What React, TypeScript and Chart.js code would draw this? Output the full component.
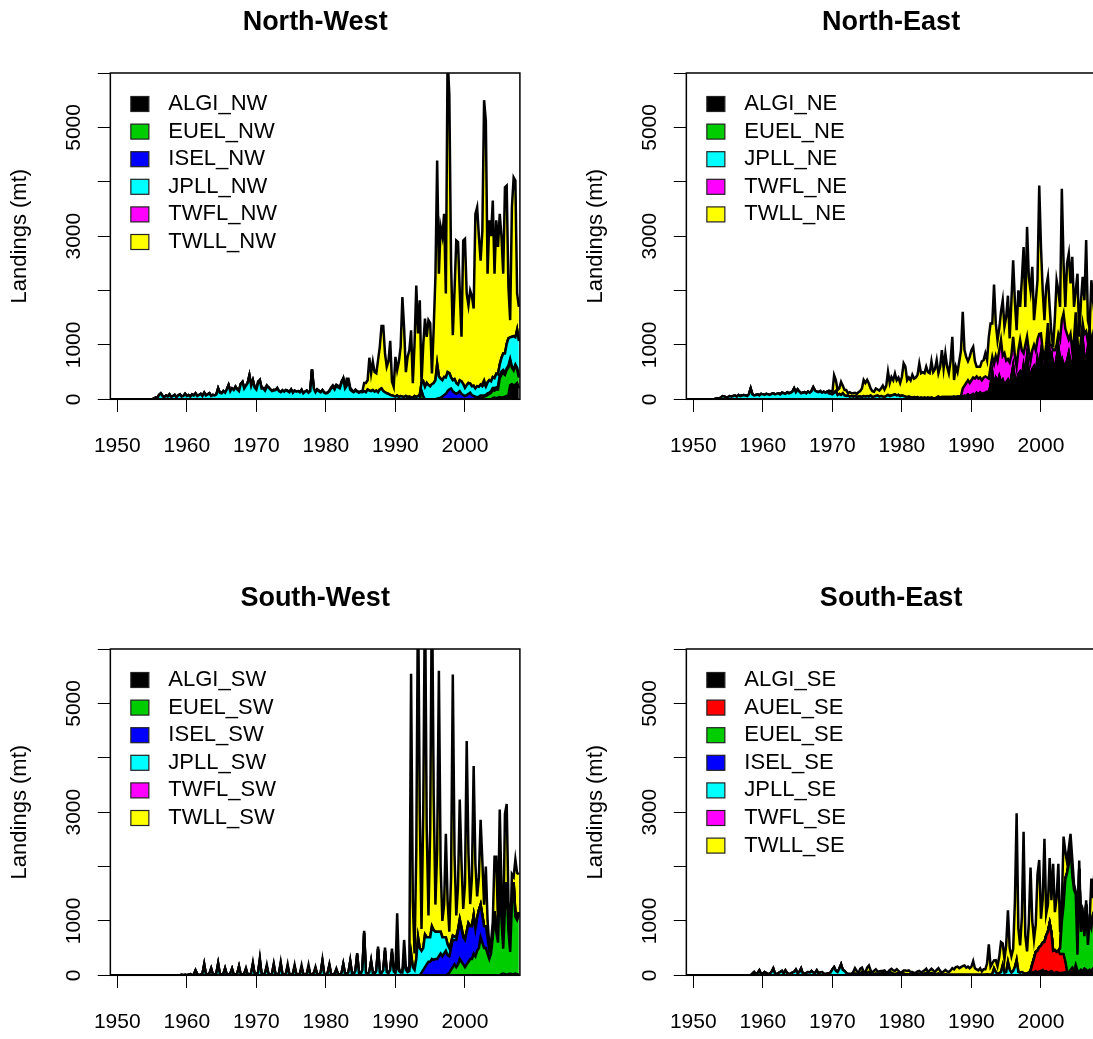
import React, { useEffect, useRef } from "react";
import { Chart, registerables } from "chart.js";

Chart.register(...registerables);

// ---------- axes ----------
const X0 = 1949; // first quarter of the grid
const NQ = 236; // quarters 1949.00 .. 2007.75
const X_MIN = 1949;
const X_MAX = 2007.9;
const Y_MAX = 6000;
const X_TICKS = [1950, 1960, 1970, 1980, 1990, 2000];
const Y_TICKS = [0, 1000, 2000, 3000, 4000, 5000, 6000];
const Y_LABELS = [0, 1000, 3000, 5000];
const Y_TITLE = "Landings (mt)";

const COLORS: Record<string, string> = {
  ALGI: "#000000",
  AUEL: "#FF0000",
  EUEL: "#00CD00",
  ISEL: "#0000FF",
  JPLL: "#00FFFF",
  TWFL: "#FF00FF",
  TWLL: "#FFFF00",
};

// ---------- North-West (quarterly values, from start year) ----------
const ALGI_NW_START = 2004;
const ALGI_NW = [20, 30, 20, 30, 40, 30, 40, 50, 60, 80, 260, 280, 250, 270, 300, 200];
const EUEL_NW_START = 1993.5;
const EUEL_NW = [
  0, 150,
  50, 0, 0, 0,
  0, 0, 0, 0, 0, 0, 0, 0, 0, 0, 0, 0, 0, 0, 0, 0,
  0, 0, 0, 0, 0, 0, 0, 0, 0, 0, 0, 0,
  20, 30, 40, 50,
  60, 80, 100, 120,
  150, 130, 160, 150,
  350, 420, 450, 400,
  480, 500, 450, 300,
  280, 350, 250, 200,
];
const ISEL_NW_START = 1996;
const ISEL_NW = [
  10, 20, 30, 50, 80, 100, 150, 180, 200, 150, 120, 100, 120, 150, 100, 80,
  60, 80, 100, 120, 80, 60, 50, 40, 30, 40, 30, 20, 20, 30, 20, 30,
  40, 50, 40, 60, 50, 60, 50, 40, 30, 40, 30, 20, 30, 20, 30, 20,
];
const JPLL_NW_START = 1955;
const JPLL_NW = [
  0, 10, 30, 20, 80, 110, 60, 40, 70, 50, 90, 40, 60, 80, 40, 70,
  90, 50, 60, 100, 60, 80, 50, 90, 70, 110, 60, 80, 100, 60, 120, 70,
  90, 110, 60, 80, 70, 90, 200, 120, 110, 150, 120, 180, 260, 150, 200, 170,
  230, 180, 150, 280, 320, 200, 250, 300, 440, 250, 350, 220, 180, 300, 350, 200,
  200, 160, 230, 220, 180, 150, 160, 170, 200, 150, 130, 160, 140, 170, 150, 130,
  180, 120, 160, 140, 150, 130, 170, 110, 140, 160, 120, 150, 550, 200, 130, 180,
  150, 130, 170, 120, 110, 120, 150, 200, 230, 180, 250, 220, 200, 300, 380, 200,
  250, 320, 180, 150, 130, 160, 140, 120, 140, 130, 150, 130, 180, 160, 150, 170,
  140, 160, 130, 180, 200, 150, 130, 110, 100, 80, 70, 60, 50, 70, 40, 60,
  50, 40, 60, 40, 50, 40, 30, 60, 40, 60, 80, 150, 280, 230, 300, 260,
  240, 280, 300, 350, 640, 400, 350, 300, 330, 300, 350, 300, 200, 200, 250, 200,
  150, 200, 230, 200, 150, 180, 200, 170, 160, 190, 150, 200, 180, 200, 170, 220,
  150, 200, 230, 180, 200, 180, 250, 220, 200, 250, 300, 350, 450, 500, 400, 550,
  600, 500, 700, 650,
];
const TWFL_NW_START = 2002.5;
const TWFL_NW = [40, 60, 20];
const TWLL_NW_START = 1970;
const TWLL_NW = [
  0, 30, 0, 20, 10, 40, 30, 0, 0, 10, 20, 0, 10, 0, 0, 10,
  0, 0, 10, 0, 0, 10, 0, 0, 0, 0, 10, 0, 0, 0, 0, 10,
  0, 0, 0, 0, 10, 0, 0, 0, 0, 0, 10, 20, 30, 40, 20, 30,
  20, 30, 0, 20, 130, 60, 30, 20, 10, 20, 10, 20,
  0, 20, 150, 170, 170, 604, 327, 520, 360, 317, 590, 785, 1150, 1200, 715, 490,
  600, 995, 255, 170, 730, 470, 660, 905, 1830, 1260, 440, 740, 850, 1230, 265, 965,
  2050, 1150, 1740, 0, 670, 1255, 850, 1195, 1160, 195, 1000, 1900, 3740, 1890, 2790, 2650,
  3000, 1545, 5800, 5120, 2100, 830, 1630, 2620, 2620, 1650, 820, 2640, 2740, 1685, 1430, 1710,
  1660, 1420, 3210, 3290, 2770, 2280, 2820, 5150, 4870, 2000, 2940, 2670, 3245, 1920, 2820, 2340,
  2770, 2240, 1470, 3060, 2910, 945, 315, 2380, 2920, 2880, 665, 630,
];

// ---------- North-East ----------
const ALGI_NE_START = 1985;
const ALGI_NE = [
  10, 20, 10, 20, 20, 30, 20, 30, 30, 20, 40, 30, 40, 30, 50, 40,
  60, 50, 80, 60, 70, 90, 60, 110, 80, 120, 90, 100, 110, 130, 100, 250,
  480, 250, 380, 300, 415, 300, 350, 250, 300, 350, 250, 400, 600, 350, 300, 450,
  500, 400, 600, 450, 780, 500, 400, 550, 600, 450, 720, 600, 845, 600, 400, 700,
  1210, 800, 845, 600, 600, 750, 965, 700, 750, 600, 650, 700, 845, 650, 600, 900,
  1395, 800, 600, 900, 1090, 700, 600, 900, 1270, 800, 1000, 900,
];
const EUEL_NE_START = 2006.25;
const EUEL_NE = [50, 150, 50];
const JPLL_NE_START = 1953;
const JPLL_NE = [
  0, 10, 20, 10, 40, 60, 50, 30, 40, 60, 50, 60, 70, 50, 80, 60,
  70, 80, 70, 60, 90, 200, 90, 70, 80, 90, 70, 100, 90, 80, 100, 90,
  80, 100, 110, 90, 100, 110, 90, 120, 110, 100, 130, 110, 120, 140, 200, 130,
  180, 140, 110, 120, 130, 110, 140, 120, 150, 220, 160, 140, 130, 150, 120, 140,
  120, 140, 110, 100, 90, 120, 150, 80, 100, 80, 110, 70, 60, 70, 50, 60,
  50, 60, 40, 50, 50, 40, 60, 50, 60, 50, 70, 40, 50, 60, 70, 50,
  60, 50, 40, 60, 80, 60, 70, 80, 90, 70, 80, 60, 70, 60, 50, 40,
  50, 40, 30, 40, 30, 40, 20, 30, 20, 30, 20, 30, 20, 30, 20, 20,
  20, 30, 10, 20, 20, 10, 20, 10, 10, 20, 10, 10, 10, 20, 10, 10,
  10, 10, 10, 10, 10, 10, 10, 10, 10, 10, 10, 10, 10, 10, 10, 10,
  10, 10, 10, 10, 10, 10, 10, 10, 10, 10, 10, 10, 10, 10, 10, 10,
  10, 10, 40, 20, 10, 10, 10, 10, 10, 10, 40, 20, 10, 0,
];
const TWFL_NE_START = 1988.75;
const TWFL_NE = [
  150,
  180, 240, 260, 230, 270, 300, 310, 300, 290, 270, 250, 290, 300, 260, 270, 340,
  290, 390, 410, 390, 475, 780, 440, 590, 400, 380, 420, 400, 540, 440, 290, 440,
  580, 490, 205, 530, 360, 390, 290, 340, 390, 440, 340, 580, 355, 300, 320, 300,
  190, 200, 155, 300, 300, 250, 235, 400, 705, 980, 650, 500, 255, 550, 300, 200,
  205, 300, 100, 200, 305, 450, 500, 100, 30, 200, 200, 200,
];
const TWLL_NE_START = 1969.5;
const TWLL_NE = [
  50, 50,
  30, 325, 205, 90, 100, 240, 140, 100, 110, 40, 80, 50, 60, 60, 60, 80,
  100, 160, 295, 250, 295, 240, 130, 110, 90, 140, 110, 110, 140, 200, 140, 190,
  425, 240, 340, 270, 385, 280, 320, 240, 345, 600, 550, 310, 350, 310, 420, 340,
  370, 410, 640, 450, 480, 450, 580, 470, 460, 670, 480, 530, 690, 430, 580, 865,
  530, 805, 560, 440, 660, 1110, 305, 560, 450, 650, 845, 1410, 655, 480, 350, 480,
  555, 565, 320, 180, 220, 200, 350, 320, 425, 320, 770, 795, 615, 1460, 600, 390,
  400, 520, 1020, 485, 800, 1165, 440, 1000, 1405, 1000, 670, 1105, 610, 1300, 1955, 700,
  2020, 1350, 1300, 1535, 455, 900, 1090, 2730, 1590, 1100, 735, 1065, 850, 700, 210, 65,
  600, 1190, 800, 600, 2415, 920, 400, 1300, 1580, 930, 1720, 600, 400, 1210, 450, 700,
  855, 620, 1680, 400, 0, 1190, 600, 400,
];

// ---------- South-West ----------
const ALGI_SW_START = 2005;
const ALGI_SW = [0, 20, 30, 20, 10, 20, 30, 20, 20, 30, 20, 10];
const EUEL_SW_START = 1997.5;
const EUEL_SW = [
  20, 50,
  100, 150, 200, 150, 200, 300, 250, 200, 150, 200, 250, 300, 300, 400, 350, 450,
  500, 700, 600, 500, 500, 400, 300, 400, 700, 1080, 800, 600, 1750, 1000, 460, 1200,
  1650, 800, 400, 1300, 1650, 1050, 1000, 1100,
];
const ISEL_SW_START = 1993.75;
const ISEL_SW = [
  50,
  100, 150, 200, 250, 250, 300, 280, 300, 300, 350, 400, 350, 400, 450, 350, 300,
  400, 500, 450, 500, 600, 700, 600, 500, 500, 600, 700, 600, 600, 700, 500, 600,
  700, 600, 500, 400, 400, 300, 150, 100, 80, 100, 80, 60, 60, 80, 60, 50,
  50, 60, 50, 40, 40, 50, 60, 50,
];
const JPLL_SW_START = 1959;
const JPLL_SW = [
  0, 10, 0, 10, 0, 10, 20, 0, 10, 90, 20, 0, 10, 30, 200, 10,
  20, 30, 125, 10, 10, 40, 215, 20, 10, 20, 125, 10, 10, 30, 120, 10,
  10, 30, 160, 10, 10, 30, 110, 10, 10, 40, 200, 20, 10, 50, 280, 20,
  10, 40, 150, 20, 10, 30, 190, 20, 10, 40, 210, 20, 10, 30, 160, 20,
  10, 30, 150, 20, 10, 30, 130, 20, 10, 30, 140, 20, 10, 40, 120, 20,
  10, 50, 250, 20, 10, 40, 180, 20, 10, 30, 100, 20, 10, 40, 200, 30,
  20, 60, 250, 30, 20, 80, 380, 40, 20, 100, 780, 50, 30, 60, 250, 40,
  30, 80, 480, 50, 40, 90, 450, 60, 40, 100, 420, 70, 40, 250, 80, 50,
  50, 300, 100, 60, 80, 400, 150, 100, 300, 700, 500, 400, 400, 600, 500, 450,
  450, 600, 550, 500, 500, 450, 400, 350, 300, 250, 200, 150, 100, 80, 60, 50,
  40, 30, 30, 20, 20, 10, 10, 10,
];
const TWFL_SW_START = 2000;
const TWFL_SW: number[] = [];
const TWLL_SW_START = 1968;
const TWLL_SW = [
  0, 0, 20, 0, 0, 0, 30, 0, 0, 10, 30, 0, 0, 0, 40, 0,
  0, 0, 20, 0, 0, 0, 30, 0, 0, 0, 40, 0, 0, 0, 40, 0,
  0, 0, 50, 0, 0, 0, 50, 0, 0, 0, 30, 0, 0, 0, 30, 0,
  0, 0, 20, 0, 0, 0, 20, 0, 0, 0, 10, 0, 0, 0, 20, 0,
  0, 0, 30, 0, 0, 0, 40, 0, 0, 0, 20, 0, 0, 0, 50, 0,
  0, 0, 60, 0, 0, 0, 70, 0,
  0, 890, 50, 0, 0, 350, 50, 20, 100, 5145, 1200, 300, 2000, 6500, 2500, 400,
  2500, 6500, 2000, 400, 2000, 6500, 2500, 500, 1500, 4800, 1200, 300, 600, 1900, 800, 300,
  1200, 4800, 1500, 400, 800, 2200, 1200, 500, 1000, 3500, 1300, 400, 900, 2750, 1200, 400,
  600, 1560, 1000, 400, 1100, 300, 100, 100, 200, 1000, 1300, 300, 1240, 500, 200, 1700,
  1440, 500, 100, 500, 100, 1000, 800, 700,
];

// ---------- South-East ----------
const ALGI_SE_START = 1998;
const ALGI_SE = [
  20, 40, 30, 50, 60, 80, 50, 70, 80, 100, 60, 80, 50, 60, 80, 50,
  40, 60, 50, 40, 50, 40, 60, 50, 40, 50, 60, 80, 100, 80, 60, 100,
  80, 120, 100, 60, 100, 80, 120, 100,
];
const AUEL_SE_START = 1998.5;
const AUEL_SE = [
  50, 150,
  250, 350, 400, 450, 460, 500, 550, 650, 750, 895, 700, 400, 420, 370, 400, 350,
  340, 350, 200, 30, 0, 50, 80, 0, 90,
];
const EUEL_SE_START = 2002.75;
const EUEL_SE = [
  100,
  600, 900, 1500, 1800, 2000, 2300, 1700, 1500, 1300, 300, 1900, 700,
  1000, 600, 1200, 500, 900, 800, 1000, 1100,
];
const ISEL_SE_START = 2003;
const ISEL_SE = [30, 60, 20];
const JPLL_SE_START = 1958.5;
const JPLL_SE = [
  30, 60,
  20, 40, 90, 20, 30, 60, 40, 20, 30, 60, 125, 30, 20, 40, 60, 80,
  30, 90, 40, 20, 30, 50, 60, 105, 40, 60, 125, 30, 30, 40, 60, 50,
  80, 50, 40, 90, 30, 50, 60, 30, 20, 30, 40, 50, 110, 150, 80, 60,
  120, 200, 100, 80, 40, 20, 10, 20, 20, 30, 20, 10, 20, 60, 30, 20,
  40, 60, 30, 20, 20, 30, 20, 30, 30, 40, 30, 20, 30, 60, 40, 30,
  20, 30, 40, 20, 20, 30, 20, 20, 20, 10, 20, 10, 20, 30, 20, 10,
  20, 30, 40, 20, 30, 40, 30, 20, 20, 30, 20, 10, 10, 20, 10, 10,
  10, 10, 10, 10, 10, 10, 10, 10, 10, 10, 10, 10, 10, 10, 10, 10,
  10, 10, 10, 10, 10, 20, 10, 10, 20, 125, 60, 20, 40, 60, 185, 50,
  60, 245, 100, 50, 80, 150, 280, 60, 50, 60, 40, 30,
  20, 10,
];
const TWFL_SE_START = 2000;
const TWFL_SE: number[] = [];
const TWLL_SE_START = 1972;
const TWLL_SE = [
  0, 10, 20, 10, 40, 100, 60, 30, 100, 80, 40, 30, 100, 120, 60, 30,
  60, 80, 50, 40, 50, 40, 60, 30, 30, 40, 80, 60, 60, 80, 40, 30,
  40, 60, 70, 60, 70, 50, 40, 30, 30, 40, 60, 40, 50, 60, 80, 40,
  60, 80, 60, 40, 80, 100, 60, 40, 60, 80, 60, 50, 80, 120, 100, 140,
  150, 120, 140, 160, 170, 130, 150, 120, 150, 250, 120, 100, 80, 120, 60, 100,
  100, 200, 560, 150, 200, 150, 220, 150, 300, 550, 400, 250, 500, 950, 400, 300,
  400, 1200, 2700, 800, 500, 1000, 2600, 700, 400, 900, 1900, 800, 350, 500, 1400, 1600,
  500, 800, 1900, 400, 500, 1200, 600, 1600, 700, 1000, 1600, 300, 300, 1200, 500, 200,
  300, 200, 300, 100, 50, 100, 150, 100, 50, 100, 80, 50, 30, 900, 300, 900,
];

// ---------- panel definitions ----------
type SeriesDef = { label: string; key: string; start: number; values: number[] };
type PanelDef = { title: string; left: number; top: number; series: SeriesDef[] };

const PANELS: PanelDef[] = [
  {
    title: "North-West", left: 0, top: 0,
    series: [
      { label: "ALGI_NW", key: "ALGI", start: ALGI_NW_START, values: ALGI_NW },
      { label: "EUEL_NW", key: "EUEL", start: EUEL_NW_START, values: EUEL_NW },
      { label: "ISEL_NW", key: "ISEL", start: ISEL_NW_START, values: ISEL_NW },
      { label: "JPLL_NW", key: "JPLL", start: JPLL_NW_START, values: JPLL_NW },
      { label: "TWFL_NW", key: "TWFL", start: TWFL_NW_START, values: TWFL_NW },
      { label: "TWLL_NW", key: "TWLL", start: TWLL_NW_START, values: TWLL_NW },
    ],
  },
  {
    title: "North-East", left: 576, top: 0,
    series: [
      { label: "ALGI_NE", key: "ALGI", start: ALGI_NE_START, values: ALGI_NE },
      { label: "EUEL_NE", key: "EUEL", start: EUEL_NE_START, values: EUEL_NE },
      { label: "JPLL_NE", key: "JPLL", start: JPLL_NE_START, values: JPLL_NE },
      { label: "TWFL_NE", key: "TWFL", start: TWFL_NE_START, values: TWFL_NE },
      { label: "TWLL_NE", key: "TWLL", start: TWLL_NE_START, values: TWLL_NE },
    ],
  },
  {
    title: "South-West", left: 0, top: 576,
    series: [
      { label: "ALGI_SW", key: "ALGI", start: ALGI_SW_START, values: ALGI_SW },
      { label: "EUEL_SW", key: "EUEL", start: EUEL_SW_START, values: EUEL_SW },
      { label: "ISEL_SW", key: "ISEL", start: ISEL_SW_START, values: ISEL_SW },
      { label: "JPLL_SW", key: "JPLL", start: JPLL_SW_START, values: JPLL_SW },
      { label: "TWFL_SW", key: "TWFL", start: TWFL_SW_START, values: TWFL_SW },
      { label: "TWLL_SW", key: "TWLL", start: TWLL_SW_START, values: TWLL_SW },
    ],
  },
  {
    title: "South-East", left: 576, top: 576,
    series: [
      { label: "ALGI_SE", key: "ALGI", start: ALGI_SE_START, values: ALGI_SE },
      { label: "AUEL_SE", key: "AUEL", start: AUEL_SE_START, values: AUEL_SE },
      { label: "EUEL_SE", key: "EUEL", start: EUEL_SE_START, values: EUEL_SE },
      { label: "ISEL_SE", key: "ISEL", start: ISEL_SE_START, values: ISEL_SE },
      { label: "JPLL_SE", key: "JPLL", start: JPLL_SE_START, values: JPLL_SE },
      { label: "TWFL_SE", key: "TWFL", start: TWFL_SE_START, values: TWFL_SE },
      { label: "TWLL_SE", key: "TWLL", start: TWLL_SE_START, values: TWLL_SE },
    ],
  },
];

const FONT = "'Liberation Sans', Arial, Helvetica, sans-serif";
const SIZE = 576;
const AREA_LEFT = 110.35;
const AREA_RIGHT = 519.9;
const AREA_TOP = 73;
const AREA_BOTTOM = 399.3;

function fullSeries(start: number, values: number[]) {
  const out: { x: number; y: number }[] = [];
  const off = Math.round((start - X0) * 4);
  for (let i = 0; i < NQ; i++) {
    const k = i - off;
    const v = k >= 0 && k < values.length ? values[k] : 0;
    out.push({ x: X0 + i / 4, y: v });
  }
  return out;
}

function Panel({ panel }: { panel: PanelDef }) {
  const ref = useRef<HTMLCanvasElement | null>(null);

  useEffect(() => {
    if (!ref.current) return;
    const decor = {
      id: "decor",
      afterDraw(chart: any) {
        const { ctx, chartArea: a, scales } = chart;
        ctx.save();
        ctx.strokeStyle = "#000";
        ctx.lineWidth = 1.5;
        ctx.strokeRect(a.left, a.top, a.right - a.left, a.bottom - a.top);
        ctx.fillStyle = "#000";
        ctx.font = `bold 27px ${FONT}`;
        ctx.textAlign = "center";
        ctx.textBaseline = "middle";
        ctx.fillText(panel.title, (a.left + a.right) / 2, 23);
        ctx.font = `21px ${FONT}`;
        for (const v of Y_LABELS) {
          const y = scales.y.getPixelForValue(v);
          ctx.save();
          ctx.translate(74, y);
          ctx.rotate(-Math.PI / 2);
          ctx.fillText(String(v), 0, 0);
          ctx.restore();
        }
        ctx.font = `22px ${FONT}`;
        ctx.save();
        ctx.translate(20, (a.top + a.bottom) / 2);
        ctx.rotate(-Math.PI / 2);
        ctx.fillText(Y_TITLE, 0, 0);
        ctx.restore();
        ctx.textAlign = "left";
        chart.data.datasets.forEach((ds: any, i: number) => {
          const cy = a.top + 31 + i * 27.6;
          ctx.fillStyle = ds.backgroundColor;
          ctx.fillRect(a.left + 20.5, cy - 7.5, 18, 15);
          ctx.lineWidth = 1.2;
          ctx.strokeStyle = "#222";
          ctx.strokeRect(a.left + 20.5, cy - 7.5, 18, 15);
          ctx.fillStyle = "#000";
          ctx.fillText(ds.label, a.left + 58, cy);
        });
        ctx.restore();
      },
    };

    const chart = new Chart(ref.current, {
      type: "line",
      data: {
        datasets: panel.series.map((s, i) => ({
          label: s.label,
          data: fullSeries(s.start, s.values),
          backgroundColor: COLORS[s.key],
          borderColor: "#000000",
          borderWidth: 2.5,
          fill: i === 0 ? "origin" : "-1",
          pointRadius: 0,
          tension: 0,
        })),
      },
      options: {
        responsive: false,
        animation: false,
        events: [],
        layout: { padding: { left: 0, right: SIZE - AREA_RIGHT, top: AREA_TOP, bottom: 0 } },
        plugins: {
          legend: { display: false },
          tooltip: { enabled: false },
          title: { display: false },
        },
        scales: {
          x: {
            type: "linear",
            min: X_MIN,
            max: X_MAX,
            afterBuildTicks: (s: any) => {
              s.ticks = X_TICKS.map((v) => ({ value: v }));
            },
            afterFit: (s: any) => {
              s.height = SIZE - AREA_BOTTOM;
              s.paddingLeft = 0;
              s.paddingRight = 0;
            },
            grid: {
              display: true,
              drawOnChartArea: false,
              drawTicks: true,
              tickLength: 12.6,
              tickColor: "#000",
              tickWidth: 1,
            },
            border: { display: false },
            ticks: {
              color: "#000",
              font: { size: 21, family: FONT },
              padding: 22,
              autoSkip: false,
              maxRotation: 0,
              minRotation: 0,
              callback: (v: any) => String(v),
            },
          },
          y: {
            type: "linear",
            stacked: true,
            min: 0,
            max: Y_MAX,
            afterBuildTicks: (s: any) => {
              s.ticks = Y_TICKS.map((v) => ({ value: v }));
            },
            afterFit: (s: any) => {
              s.width = AREA_LEFT;
              s.paddingTop = 0;
              s.paddingBottom = 0;
            },
            grid: {
              display: true,
              drawOnChartArea: false,
              drawTicks: true,
              tickLength: 12.6,
              tickColor: "#000",
              tickWidth: 1,
            },
            border: { display: false },
            ticks: { display: false },
          },
        },
      } as any,
      plugins: [decor],
    });
    return () => chart.destroy();
  }, [panel]);

  return (
    <div style={{ position: "absolute", left: panel.left, top: panel.top, width: SIZE, height: SIZE }}>
      <canvas ref={ref} width={SIZE} height={SIZE} style={{ display: "block" }} />
    </div>
  );
}

export default function App() {
  return (
    <div
      style={{
        position: "fixed",
        left: 0,
        top: 0,
        width: 1093,
        height: 1039,
        overflow: "hidden",
        background: "#ffffff",
      }}
    >
      {PANELS.map((p) => (
        <Panel key={p.title} panel={p} />
      ))}
    </div>
  );
}
